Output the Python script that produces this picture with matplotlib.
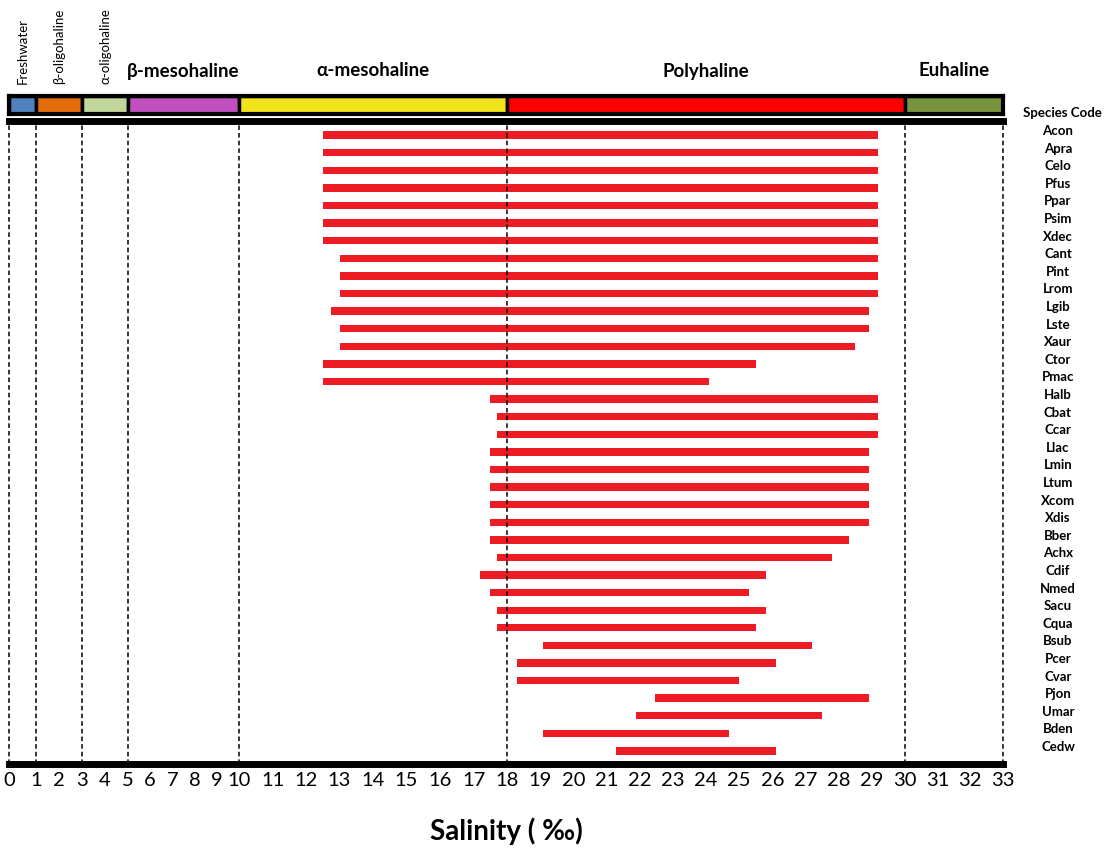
import numpy as np
import matplotlib
matplotlib.use('Agg')
import matplotlib.pyplot as plt
from matplotlib.transforms import blended_transform_factory, offset_copy

plt.rcParams['font.family'] = ['Lato', 'DejaVu Sans']

# salinity zones (Venice system)
zone_names = ['Freshwater', 'β-oligohaline', 'α-oligohaline', 'β-mesohaline',
              'α-mesohaline', 'Polyhaline', 'Euhaline']
zone_lo = [0, 1, 3, 5, 10, 18, 30]
zone_hi = [1, 3, 5, 10, 18, 30, 33]
zone_colors = ['#4f81bd', '#e46c0a', '#c3d69b', '#c050c0', '#f2e41c', '#ff0000', '#77933c']

# species salinity ranges (min, max)
species = ['Acon', 'Apra', 'Celo', 'Pfus', 'Ppar', 'Psim', 'Xdec', 'Cant', 'Pint',
           'Lrom', 'Lgib', 'Lste', 'Xaur', 'Ctor', 'Pmac', 'Halb', 'Cbat', 'Ccar',
           'Llac', 'Lmin', 'Ltum', 'Xcom', 'Xdis', 'Bber', 'Achx', 'Cdif', 'Nmed',
           'Sacu', 'Cqua', 'Bsub', 'Pcer', 'Cvar', 'Pjon', 'Umar', 'Bden', 'Cedw']
sal_min = [12.5, 12.5, 12.5, 12.5, 12.5, 12.5, 12.5, 13.0, 13.0, 13.0, 12.75, 13.0,
           13.0, 12.5, 12.5, 17.5, 17.7, 17.7, 17.5, 17.5, 17.5, 17.5, 17.5, 17.5,
           17.7, 17.2, 17.5, 17.7, 17.7, 19.1, 18.3, 18.3, 22.45, 21.9, 19.1, 21.3]
sal_max = [29.2, 29.2, 29.2, 29.2, 29.2, 29.2, 29.2, 29.2, 29.2, 29.2, 28.9, 28.9,
           28.5, 25.5, 24.1, 29.2, 29.2, 29.2, 28.9, 28.9, 28.9, 28.9, 28.9, 28.3,
           27.8, 25.8, 25.3, 25.8, 25.5, 27.2, 26.1, 25.0, 28.9, 27.5, 24.7, 26.1]

# the salinity axis is stretched differently below and above 10 ppt
axis_breaks = [0, 1, 3, 5, 10, 18, 30, 33]
axis_units = [0, 27, 73, 119, 230, 498, 896, 994]

def fwd(x):
    return np.interp(x, axis_breaks, axis_units)

def inv(u):
    return np.interp(u, axis_units, axis_breaks)

fig = plt.figure(figsize=(11.09, 8.52), dpi=100)
W, H = 1109, 852
x0, x1 = 9 / W, 1003 / W

ax = fig.add_axes([x0, 1 - 764 / H, x1 - x0, (764 - 121) / H])
ax.set_xscale('function', functions=(fwd, inv))
ax.set_xlim(0, 33)

rows = np.arange(len(species))
lo = np.array(sal_min)
hi = np.array(sal_max)
ax.barh(rows, hi - lo, left=lo, height=0.42, color='#ed1c24', zorder=2)
ax.set_ylim(len(species) - 1 + 0.74, -0.8)
ax.set_yticks([])

for b in axis_breaks:
    ax.axvline(b, color='black', ls=(0, (3, 2)), lw=1.1, zorder=3, clip_on=False)

for s in ['left', 'right']:
    ax.spines[s].set_visible(False)
for s in ['top', 'bottom']:
    ax.spines[s].set_linewidth(5)

ax.set_xticks(range(34))
ax.set_xticklabels([str(i) for i in range(34)], fontsize=14.5)
ax.tick_params(axis='x', length=0, pad=6)

# species labels on the right
tr = blended_transform_factory(fig.transFigure, ax.transData)
tr = offset_copy(tr, fig=fig, y=4, units='dots')
for i, sp in enumerate(species):
    fig.text(1058 / W, i, sp, transform=tr, ha='center', va='center',
             fontsize=9.5, fontweight='bold')
fig.text(1062 / W, 1 - 113 / H, 'Species Code', ha='center', va='center',
         fontsize=9.5, fontweight='bold')

# zone band
band = fig.add_axes([x0, 1 - 114 / H, x1 - x0, 18 / H], sharex=ax)
band.barh(0, np.array(zone_hi) - np.array(zone_lo), left=zone_lo, height=1,
          color=zone_colors, edgecolor='black', lw=2.5)
band.set_ylim(-0.5, 0.5)
band.set_yticks([])
band.tick_params(axis='x', length=0, labelbottom=False)
for s in band.spines.values():
    s.set_linewidth(3)

ztr = blended_transform_factory(ax.transData, fig.transFigure)
for name, a, b in zip(zone_names, zone_lo, zone_hi):
    mid = inv((fwd(a) + fwd(b)) / 2)
    if b <= 5:
        fig.text(mid, 1 - 84 / H, name, transform=ztr, rotation=90,
                 ha='center', va='bottom', fontsize=9.5)
    else:
        fig.text(mid, 1 - 71 / H, name, transform=ztr, ha='center',
                 va='center', fontsize=13.5, fontweight='bold')

fig.text(506 / W, 1 - 831 / H, 'Salinity ( ‰)', ha='center', va='center',
         fontsize=20, fontweight='bold')

fig.savefig('out.png', dpi=100)
